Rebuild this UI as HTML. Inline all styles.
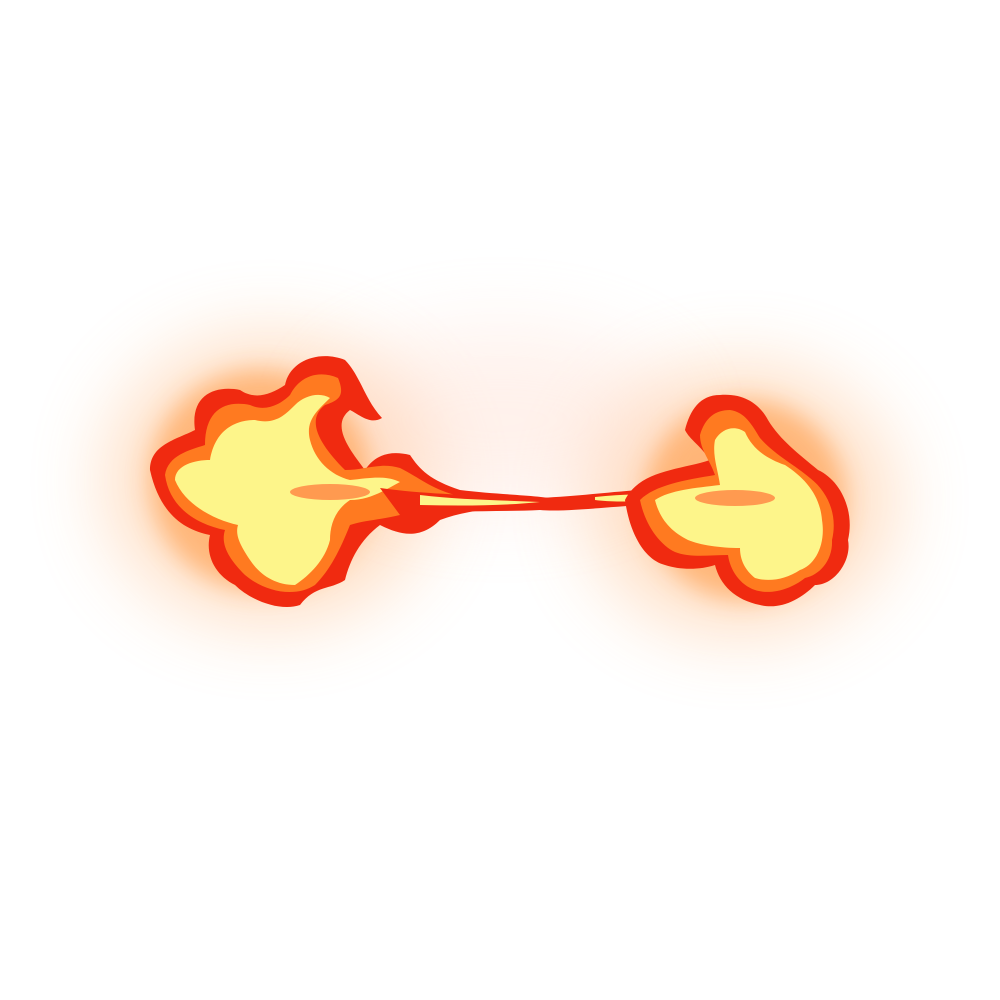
<!DOCTYPE html>
<html><head><meta charset="utf-8"><style>
html,body{margin:0;padding:0;background:#fff;width:1000px;height:1000px;overflow:hidden}
</style></head><body>
<svg width="1000" height="1000" viewBox="0 0 1000 1000">
<defs>
<filter id="blur" x="-50%" y="-50%" width="200%" height="200%"><feGaussianBlur stdDeviation="40"/></filter>
<filter id="blur2" x="-50%" y="-50%" width="200%" height="200%"><feGaussianBlur stdDeviation="12"/></filter>
</defs>
<g>
<ellipse cx="270" cy="480" rx="160" ry="140" fill="#ffb070" opacity="0.45" filter="url(#blur)"/>
<ellipse cx="740" cy="500" rx="150" ry="130" fill="#ffb070" opacity="0.45" filter="url(#blur)"/>
<ellipse cx="500" cy="420" rx="180" ry="90" fill="#ffd8c8" opacity="0.35" filter="url(#blur)"/>
<ellipse cx="260" cy="480" rx="110" ry="110" fill="#ff9030" opacity="0.5" filter="url(#blur2)"/>
<ellipse cx="745" cy="500" rx="100" ry="100" fill="#ff9030" opacity="0.5" filter="url(#blur2)"/>
</g>
<g>
<path d="M150,470 C150,445 175,440 195,430 C190,395 215,385 240,390 C255,400 270,395 285,385 C290,360 320,350 345,360 C360,375 365,400 382,418 C370,425 360,415 350,410 C330,425 350,450 365,470 C375,455 390,450 410,455 C420,470 430,480 460,490 C500,495 540,495 560,500 C530,508 480,505 440,520 C420,540 400,535 380,525 C360,540 350,560 345,580 C330,590 315,585 300,605 C280,612 250,600 235,585 C215,575 205,555 210,535 C185,530 160,515 150,470 Z" fill="#f02a10"/>
<path d="M165,475 C168,455 190,450 205,445 C205,410 225,400 250,405 C265,412 280,405 290,395 C300,375 320,370 338,378 C345,395 340,400 325,405 C305,420 320,445 345,470 C365,470 380,462 400,468 C420,478 430,488 455,495 C430,502 420,508 400,515 C380,520 365,520 350,525 C340,550 330,570 315,585 C295,598 265,592 245,575 C230,560 220,545 225,530 C200,525 170,510 165,475 Z" fill="#ff7a20"/>
<path d="M175,480 C175,465 195,460 210,460 C215,430 235,420 255,420 C275,425 285,415 295,405 C305,395 320,392 330,398 C318,410 305,420 310,440 C315,460 330,475 350,480 C370,478 385,475 400,482 C385,490 370,500 350,500 C335,510 330,525 330,540 C325,560 310,575 295,585 C275,585 260,575 250,560 C240,545 235,535 238,525 C215,520 185,505 175,480 Z" fill="#fdf58a"/>
<ellipse cx="330" cy="492" rx="40" ry="8" fill="#ff9a50"/>
</g>
<g>
<path d="M380,488 C430,495 480,495 540,498 C580,496 610,492 640,490 L640,505 C600,508 560,512 540,510 C500,512 450,510 400,515 Z" fill="#f02a10"/>
<path d="M420,495 C460,500 500,500 540,502 C500,506 460,506 420,505 Z" fill="#fdf58a"/>
<path d="M595,497 C615,495 630,494 650,495 L650,500 C630,502 610,502 595,500 Z" fill="#fdf58a"/>
</g>
<g>
<path d="M625,500 C640,470 680,470 710,460 C700,445 690,440 685,430 C690,410 700,395 720,395 C745,393 760,405 768,420 C780,440 800,455 818,470 C840,480 855,510 848,540 C852,560 835,585 815,585 C800,600 780,610 760,605 C735,600 720,585 715,565 C700,570 680,570 665,565 C645,560 630,535 625,500 Z" fill="#f02a10"/>
<path d="M640,500 C655,485 685,480 715,475 C710,460 700,450 700,435 C705,418 715,410 730,410 C745,412 752,425 760,438 C775,455 795,465 810,478 C828,492 838,515 832,540 C833,560 820,575 805,578 C790,590 770,595 755,590 C740,585 730,570 728,555 C710,555 690,558 675,552 C660,545 645,525 640,500 Z" fill="#ff7a20"/>
<path d="M655,500 C670,490 695,488 720,485 C718,470 712,455 715,440 C722,428 735,425 745,432 C752,448 765,458 785,465 C805,478 820,495 822,520 C826,545 815,565 800,570 C785,580 768,582 755,578 C745,570 740,560 740,548 C720,548 700,545 688,540 C672,532 660,520 655,500 Z" fill="#fdf58a"/>
<ellipse cx="735" cy="498" rx="40" ry="8" fill="#ff9a50"/>
</g>
</svg>
</body></html>
